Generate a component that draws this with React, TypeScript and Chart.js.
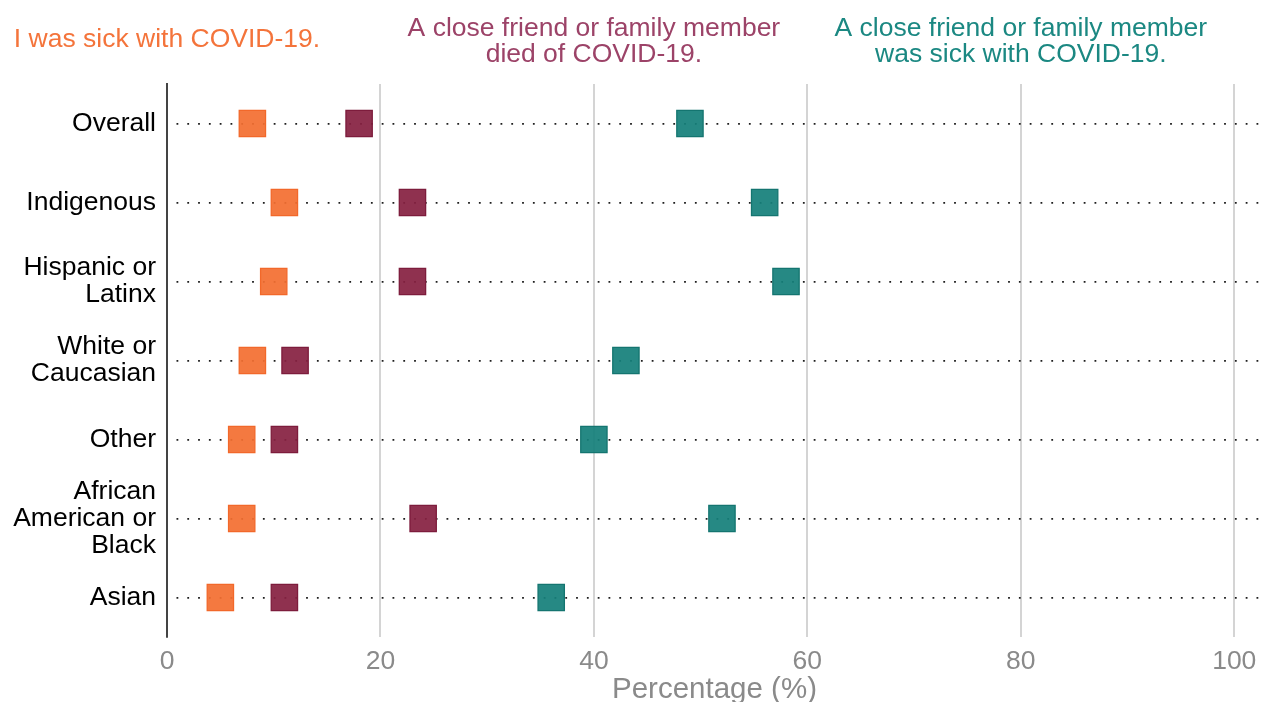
import React, { useEffect, useRef } from "react";
import { Chart, registerables } from "chart.js";

Chart.register(...registerables);

const categories: string[][] = [
  ["Overall"],
  ["Indigenous"],
  ["Hispanic or", "Latinx"],
  ["White or", "Caucasian"],
  ["Other"],
  ["African", "American or", "Black"],
  ["Asian"],
];

const sickSelf = [8, 11, 10, 8, 7, 7, 5];
const closeDied = [18, 23, 23, 12, 11, 24, 11];
const closeSick = [49, 56, 58, 43, 40, 52, 36];

const xTicks = [0, 20, 40, 60, 80, 100];

const seriesTitles: { lines: string[]; at: number; color: string }[] = [
  { lines: ["I was sick with COVID-19."], at: 0, color: "#F4743B" },
  { lines: ["A close friend or family member", "died of COVID-19."], at: 40, color: "#9C4368" },
  { lines: ["A close friend or family member", "was sick with COVID-19."], at: 80, color: "#1B8882" },
];

const FONT = "'Liberation Sans', Arial, sans-serif";

export default function App() {
  const ref = useRef<HTMLCanvasElement | null>(null);

  useEffect(() => {
    if (!ref.current) return;
    const mk = (vals: number[], fill: string, border: string, label: string) => ({
      label,
      data: vals.map((v, i) => ({ x: v, y: i })),
      pointStyle: "rect" as const,
      pointRadius: 18.6,
      pointHoverRadius: 18.6,
      pointBorderWidth: 1.3,
      backgroundColor: fill,
      borderColor: border,
      showLine: false,
      clip: false,
    });

    const titlePlugin = {
      id: "seriesTitles",
      afterDraw(chart: any) {
        const ctx = chart.ctx as CanvasRenderingContext2D;
        const xs = chart.scales.x;
        ctx.save();
        ctx.font = `26.5px ${FONT}`;
        ctx.textAlign = "center";
        ctx.textBaseline = "middle";
        const lh = 26;
        seriesTitles.forEach((t) => {
          ctx.fillStyle = t.color;
          const px = xs.getPixelForValue(t.at);
          const n = t.lines.length;
          const midY = n > 1 ? 42 : 40;
          t.lines.forEach((line, k) => {
            const y = midY + (k - (n - 1) / 2) * lh;
            ctx.fillText(line, px, y);
          });
        });
        ctx.restore();
      },
    };

    const chart = new Chart(ref.current, {
      type: "scatter",
      data: {
        datasets: [
          mk(closeSick, "rgba(21,128,123,0.93)", "#147570", "A close friend or family member was sick with COVID-19."),
          mk(closeDied, "rgba(135,33,66,0.93)", "#7d1c3c", "A close friend or family member died of COVID-19."),
          mk(sickSelf, "rgba(243,111,50,0.93)", "#f2682a", "I was sick with COVID-19."),
        ],
      },
      options: {
        animation: false,
        responsive: false,
        maintainAspectRatio: false,
        layout: { autoPadding: false, padding: { top: 84, right: 0, left: 0, bottom: 0 } },
        plugins: {
          legend: { display: false },
          tooltip: { enabled: false },
        },
        scales: {
          x: {
            type: "linear",
            min: 0,
            max: 102.6,
            afterBuildTicks: (s: any) => {
              s.ticks = xTicks.map((v) => ({ value: v }));
            },
            afterFit: (s: any) => {
              s.height = 65;
              s.paddingLeft = 0;
              s.paddingRight = 0;
            },
            grid: {
              drawTicks: false,
              lineWidth: 2,
              color: (c: any) => (c.tick && c.tick.value === 0 ? "rgba(0,0,0,0)" : "#d4d4d4"),
            },
            border: { display: false },
            ticks: {
              padding: 9,
              color: "#8a8a8a",
              font: { family: FONT, size: 26.5, lineHeight: 1.2 },
              callback: (v: any) => String(v),
            },
            title: {
              display: true,
              text: "Percentage (%)",
              color: "#8a8a8a",
              font: { family: FONT, size: 29.5, lineHeight: 0.85 },
              padding: { top: 0, bottom: 0 },
            },
          },
          y: {
            type: "linear",
            reverse: true,
            min: -0.5,
            max: 6.5,
            afterBuildTicks: (s: any) => {
              s.ticks = categories.map((_, i) => ({ value: i }));
            },
            afterFit: (s: any) => {
              s.width = 167;
              s.paddingTop = 0;
              s.paddingBottom = 0;
            },
            grid: {
              drawTicks: false,
              lineWidth: 1.8,
              color: "#1e1e1e",
            },
            border: { display: true, color: "#444444", width: 2, dash: [1.8, 9], dashOffset: -8.5 },
            ticks: {
              padding: 11,
              color: "#000000",
              font: { family: FONT, size: 26.5, lineHeight: 1.02 },
              callback: (v: any) => categories[v as number] ?? "",
            },
          },
        },
      },
      plugins: [titlePlugin],
    } as any);

    return () => chart.destroy();
  }, []);

  return (
    <div style={{ position: "fixed", left: 0, top: 0, width: 1262, height: 702, background: "#fff" }}>
      <canvas ref={ref} width={1262} height={702} style={{ width: 1262, height: 702, display: "block" }} />
    </div>
  );
}
